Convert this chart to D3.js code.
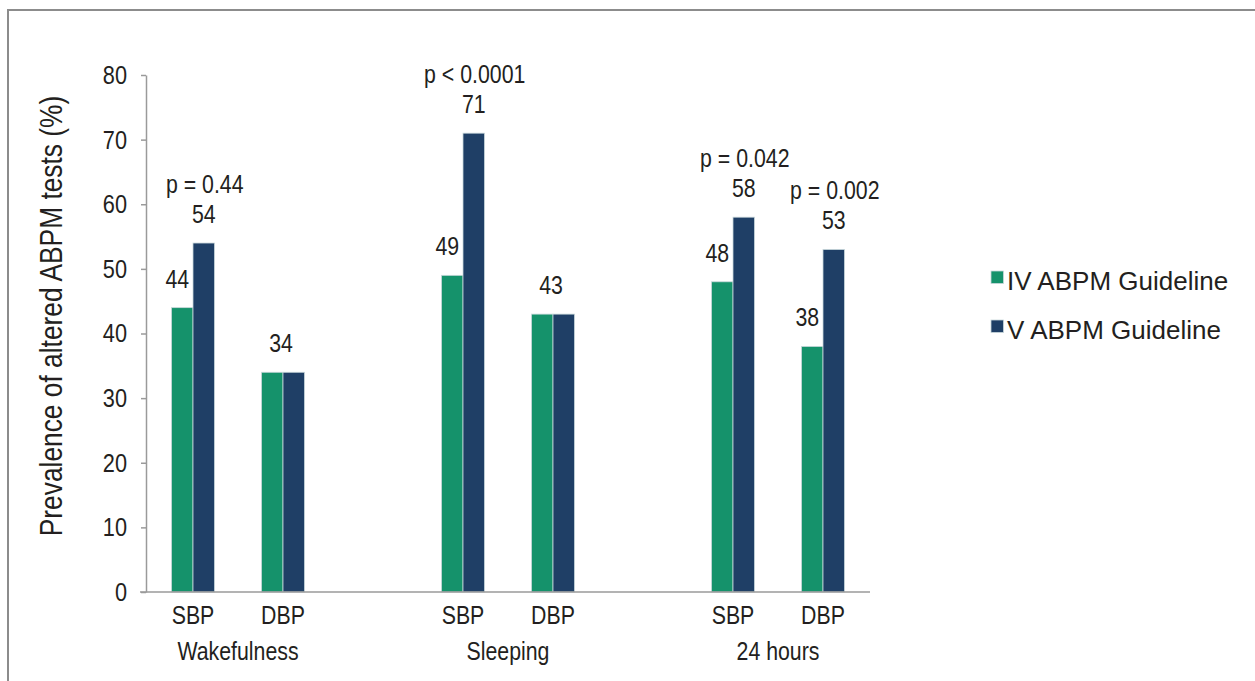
<!DOCTYPE html>
<html>
<head>
<meta charset="utf-8">
<script src="https://cdn.jsdelivr.net/npm/d3@7"></script>
<style>
  html, body { margin: 0; padding: 0; background: #fff; }
  svg { display: block; }
  .lbl { font-family: "Liberation Sans", Arial, sans-serif; fill: #231f20; }
  .leg { font-family: "Liberation Sans", Arial, sans-serif; fill: #231f20; }
</style>
</head>
<body>
<svg id="chart" width="1255" height="681"></svg>
<script>
// Prevalence of altered ABPM tests (%) by period and pressure type
const periods = ["Wakefulness", "Sleeping", "24 hours"];
const measures = ["SBP", "DBP"];
const seriesNames = ["IV ABPM Guideline", "V ABPM Guideline"];
// values in period order, SBP then DBP
const ivValues = [44, 34, 49, 43, 48, 38];
const vValues = [54, 34, 71, 43, 58, 53];
const pValues = ["p = 0.44", "", "p < 0.0001", "", "p = 0.042", "p = 0.002"];
const yTicks = [0, 10, 20, 30, 40, 50, 60, 70, 80];
const colors = ["#15926b", "#1f3f66"];

const NARROW = 0.82; // condensed lettering for the chart labels

const svg = d3.select("#chart");
const W = 1255, H = 681;

// narrow text placed at (x, y)
function narrowText(parent, tx, ty, str) {
  return parent.append("text")
    .attr("transform", `translate(${tx},${ty}) scale(${NARROW},1)`)
    .text(str);
}

// panel frame (runs off the right and bottom of the canvas)
svg.append("rect")
  .attr("x", 8).attr("y", 10)
  .attr("width", W + 20).attr("height", H + 20)
  .attr("fill", "#fff").attr("stroke", "#8c8c8c").attr("stroke-width", 2);

// rows: one per period/measure pair
const rows = [];
periods.forEach((p, i) => measures.forEach((m, j) => {
  const k = i * measures.length + j;
  rows.push({ period: p, measure: m, key: p + "|" + m, iv: ivValues[k], v: vValues[k], p: pValues[k] });
}));

// slot domain with an empty slot between periods
const slots = [];
periods.forEach((p, i) => {
  measures.forEach(m => slots.push(p + "|" + m));
  if (i < periods.length - 1) slots.push(p + "|gap");
});

const x = d3.scaleBand().domain(slots).range([148, 868]).padding(0);
const inner = d3.scaleBand().domain(seriesNames).range([0, 43]);
const barOffset = (x.bandwidth() - 43) / 2;
const y = d3.scaleLinear().domain([0, 80]).range([592, 75]);

// y axis
const yAxis = svg.append("g")
  .attr("transform", "translate(146,0)")
  .call(d3.axisLeft(y).tickValues(yTicks).tickSize(5).tickSizeOuter(0).tickPadding(14));
yAxis.selectAll("path, line").attr("stroke", "#9a9a9a").attr("stroke-width", 1.5);
yAxis.selectAll("text")
  .attr("class", "lbl").attr("font-size", 26.5).attr("fill", "#231f20")
  .attr("x", -19 / NARROW)
  .attr("transform", `scale(${NARROW},1)`);

// bars
const barG = svg.append("g");
rows.forEach(r => {
  [r.iv, r.v].forEach((val, s) => {
    barG.append("rect")
      .attr("x", x(r.key) + barOffset + inner(seriesNames[s]))
      .attr("y", y(val))
      .attr("width", inner.bandwidth())
      .attr("height", y(0) - y(val))
      .attr("fill", colors[s])
      .attr("stroke", "#c9d8db").attr("stroke-width", 0.8);
  });
});

// x baseline
svg.append("line")
  .attr("x1", 140).attr("x2", 870)
  .attr("y1", y(0)).attr("y2", y(0))
  .attr("stroke", "#9a9a9a").attr("stroke-width", 1.5);

// value labels and p-values
const lab = svg.append("g").attr("class", "lbl").attr("font-size", 26).attr("text-anchor", "middle");
rows.forEach(r => {
  const gx = x(r.key) + barOffset + inner(seriesNames[0]) + inner.bandwidth() / 2;
  const vx = x(r.key) + barOffset + inner(seriesNames[1]) + inner.bandwidth() / 2;
  if (r.iv === r.v) {
    narrowText(lab, (gx + vx) / 2 - 2, y(r.v) - 20, r.v);
  } else {
    narrowText(lab, gx - 5, y(r.iv) - 20, r.iv);
    narrowText(lab, vx, y(r.v) - 20, r.v);
  }
  if (r.p) {
    narrowText(lab, vx + 1, y(Math.max(r.iv, r.v)) - 50, r.p);
  }
});

// category labels
const catG = svg.append("g").attr("class", "lbl").attr("font-size", 26).attr("text-anchor", "middle");
rows.forEach(r => {
  narrowText(catG, x(r.key) + x.bandwidth() / 2, 624, r.measure);
});
periods.forEach(p => {
  const a = x(p + "|" + measures[0]) + x.bandwidth() / 2;
  const b = x(p + "|" + measures[measures.length - 1]) + x.bandwidth() / 2;
  narrowText(catG, (a + b) / 2, 660, p);
});

// y-axis title
svg.append("text")
  .attr("class", "lbl")
  .attr("font-size", 31)
  .attr("text-anchor", "middle")
  .attr("transform", "translate(62,316) rotate(-90) scale(0.85,1)")
  .text("Prevalence of altered ABPM tests (%)");

// legend
const leg = svg.append("g").attr("transform", "translate(991,271)");
seriesNames.forEach((name, i) => {
  const g = leg.append("g").attr("transform", `translate(0,${i * 49})`);
  g.append("rect").attr("width", 12.5).attr("height", 12.5)
    .attr("fill", colors[i]).attr("stroke", "#c9d8db").attr("stroke-width", 0.8);
  g.append("text").attr("class", "leg").attr("font-size", 26)
    .attr("x", 16).attr("y", 18.5).text(name);
});
</script>
</body>
</html>
